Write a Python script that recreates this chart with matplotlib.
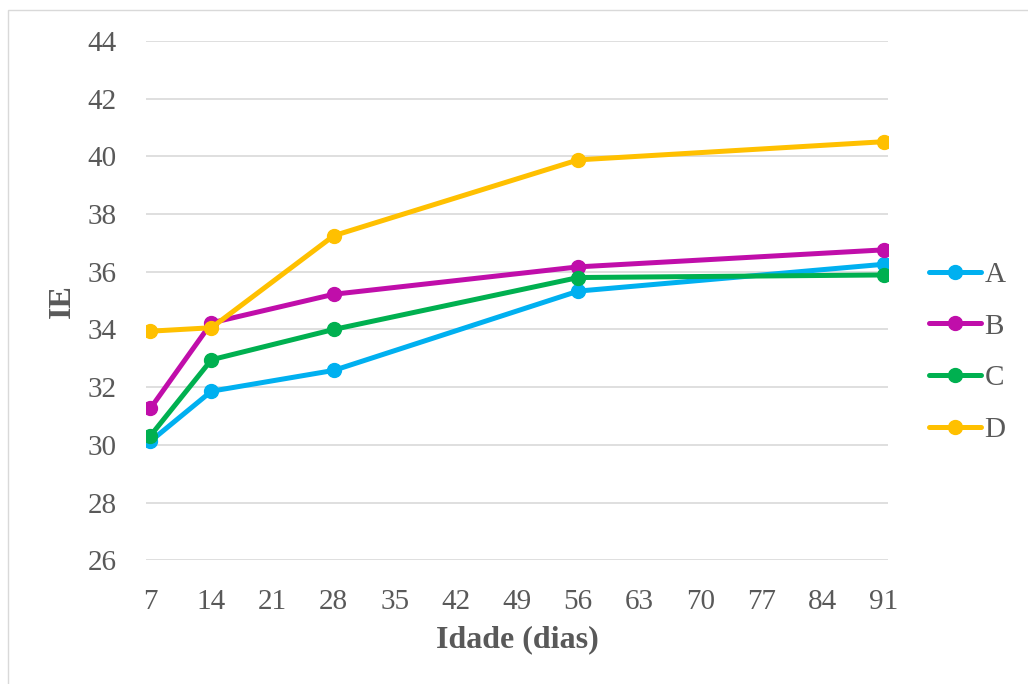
import matplotlib.pyplot as plt
from matplotlib.patches import Rectangle

# ages (days) and IE values per series
dias = [7, 14, 28, 56, 91]
serie_a = [30.12, 31.86, 32.58, 35.33, 36.26]
serie_b = [31.26, 34.23, 35.22, 36.17, 36.76]
serie_c = [30.31, 32.95, 34.00, 35.80, 35.89]
serie_d = [33.94, 34.06, 37.25, 39.88, 40.51]
nomes = ['A', 'B', 'C', 'D']
cores = ['#00B0F0', '#C00EAA', '#00B050', '#FFC000']
x_ticks = [7, 14, 21, 28, 35, 42, 49, 56, 63, 70, 77, 84, 91]
y_ticks = [26, 28, 30, 32, 34, 36, 38, 40, 42, 44]

plt.rcParams['font.family'] = ['Liberation Serif', 'DejaVu Serif']

fig = plt.figure(figsize=(10.28, 6.84), dpi=100)
ax = fig.add_axes([0.142, 0.181, 0.722, 0.759])

for nome, serie, cor in zip(nomes, [serie_a, serie_b, serie_c, serie_d], cores):
    ax.plot(dias, serie, color=cor, lw=3.6, marker='o', markersize=10,
            label=nome, solid_capstyle='round', zorder=3)

ax.set_xlim(6.5, 91.5)
ax.set_ylim(26, 44)
ax.set_xticks(x_ticks)
ax.set_yticks(y_ticks)
ax.grid(axis='y', color='#D9D9D9', lw=1.2)
ax.set_axisbelow(True)
for s in ax.spines.values():
    s.set_visible(False)
ax.tick_params(length=0, labelsize=21, labelcolor='#595959')
ax.tick_params(axis='x', pad=21)
ax.tick_params(axis='y', pad=21)

ax.set_xlabel('Idade (dias)', fontsize=23, fontweight='bold', color='#595959', labelpad=7)
ax.set_ylabel('IE', fontsize=23, fontweight='bold', color='#595959', labelpad=8)

fig.legend(loc='center left', bbox_to_anchor=(0.878, 0.485), frameon=False,
           fontsize=21, labelcolor='#595959', handlelength=1.8,
           handletextpad=0.1, labelspacing=0.87)

fig.patches.append(Rectangle((8 / 1028, -0.01), 1.1, 1 - 10 / 684 + 0.01,
                             transform=fig.transFigure, fill=False,
                             edgecolor='#D9D9D9', lw=1))

fig.savefig('out.png', dpi=100)
